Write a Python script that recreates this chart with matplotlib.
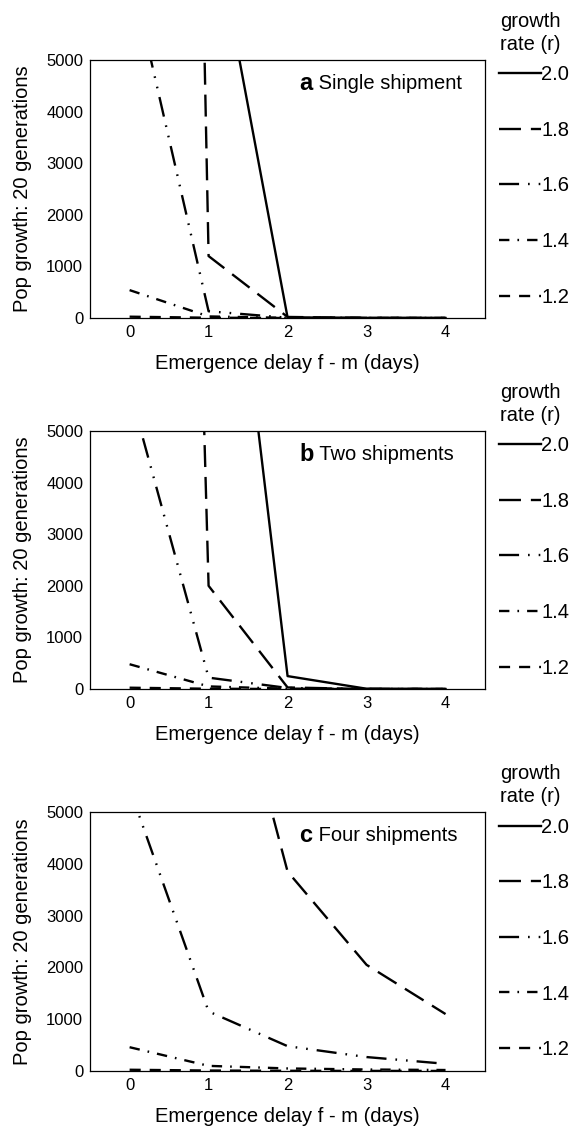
import matplotlib.pyplot as plt
from matplotlib.lines import Line2D

plt.rcParams['font.family'] = ['Liberation Sans', 'DejaVu Sans']

# emergence delay f - m (days)
delay = [0, 1, 2, 3, 4]

# pop growth after 20 generations, one list per growth rate r
# panel a: single shipment
a_r20 = [30000, 8200, 10, 2, 0]
a_r18 = [77000, 1200, 20, 1, 0]
a_r16 = [6800, 130, 5, 0, 0]
a_r14 = [540, 30, 2, 0, 0]
a_r12 = [25, 5, 0, 0, 0]

# panel b: two shipments
b_r20 = [40000, 13100, 250, 5, 0]
b_r18 = [56500, 2000, 30, 0, 0]
b_r16 = [5800, 220, 20, 0, 0]
b_r14 = [480, 50, 5, 0, 0]
b_r12 = [25, 5, 0, 0, 0]

# panel c: four shipments
c_r20 = [100000, 60000, 40000, 25000, 15000]
c_r18 = [30000, 9600, 3850, 2050, 1100]
c_r16 = [5450, 1150, 480, 270, 140]
c_r14 = [460, 100, 50, 30, 20]
c_r12 = [25, 10, 5, 3, 2]

rates = ['2.0', '1.8', '1.6', '1.4', '1.2']
styles = ['-',
          (0, (9.3, 4.2)),
          (0, (8.5, 3.8, 0.7, 3.8, 0.7, 3.8)),
          (0, (4.4, 3.4, 0.7, 3.4)),
          (0, (4.7, 3.8))]
lw = 1.7

panels = [
    ('a', 'Single shipment', [a_r20, a_r18, a_r16, a_r14, a_r12]),
    ('b', 'Two shipments', [b_r20, b_r18, b_r16, b_r14, b_r12]),
    ('c', 'Four shipments', [c_r20, c_r18, c_r16, c_r14, c_r12]),
]

# axes boxes in figure fraction
boxes = [
    [0.157, 0.7176, 0.688, 0.2291],
    [0.157, 0.3881, 0.688, 0.2291],
    [0.157, 0.0488, 0.688, 0.2301],
]

fig = plt.figure(figsize=(5.74, 11.26), dpi=100)

for (letter, title, series), box in zip(panels, boxes):
    ax = fig.add_axes(box)
    for vals, ls in zip(series, styles):
        ax.plot(delay, vals, color='black', lw=lw, linestyle=ls)

    ax.set_xlim(-0.5, 4.5)
    ax.set_ylim(0, 5000)
    ax.set_xticks(delay)
    ax.set_yticks([0, 1000, 2000, 3000, 4000, 5000])
    ax.tick_params(length=0, labelsize=12, pad=5)
    for sp in ax.spines.values():
        sp.set_linewidth(0.9)

    ax.set_xlabel('Emergence delay f - m (days)', fontsize=14.5, labelpad=10)
    ax.set_ylabel('Pop growth: 20 generations', fontsize=14.5, labelpad=10)

    t = ax.text(0.53, 0.91, letter, transform=ax.transAxes, fontsize=17,
                fontweight='bold', va='center', ha='left')
    ax.annotate(' ' + title, xy=(1, 0.5), xycoords=t, va='center', ha='left',
                fontsize=14.5)

    # legend outside on the right, title drawn separately
    ax.text(1.038, 1.185, 'growth\nrate (r)', transform=ax.transAxes,
            fontsize=14.5, va='top', ha='left', linespacing=1.25)
    handles = [Line2D([], [], color='black', lw=lw, linestyle=ls) for ls in styles]
    ax.legend(handles, rates, loc='center left', bbox_to_anchor=(1.035, 0.512),
              frameon=False, fontsize=14.5, handlelength=2.1,
              handletextpad=0.0, labelspacing=1.82, borderpad=0,
              borderaxespad=0)

fig.savefig('out.png', dpi=100)
